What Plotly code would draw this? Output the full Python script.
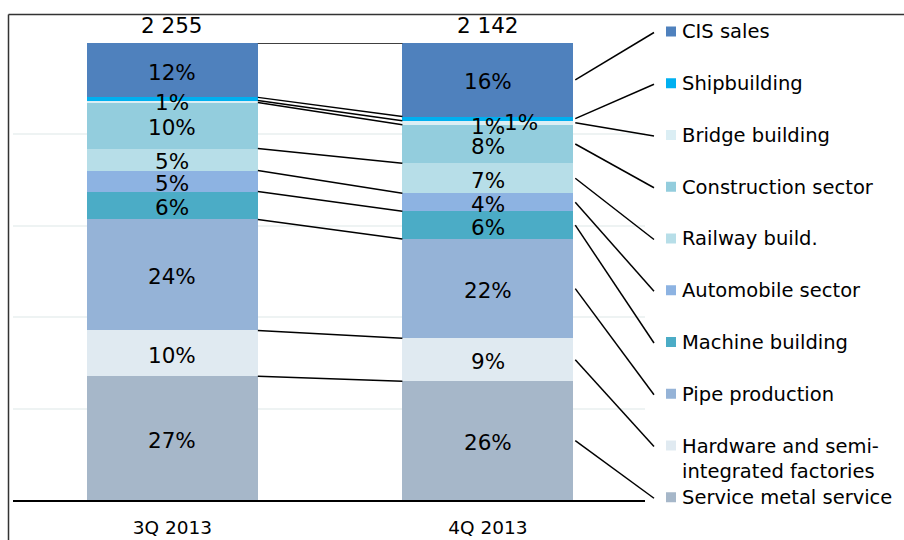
import plotly.graph_objects as go

# ---------------- data ----------------
categories = ["3Q 2013", "4Q 2013"]
totals = ["2 255", "2 142"]
# stacking order: bottom -> top
segments = ["Service metal service", "Hardware and semi-integrated factories",
            "Pipe production", "Machine building", "Automobile sector",
            "Railway build.", "Construction sector", "Bridge building",
            "Shipbuilding", "CIS sales"]
legend_text = ["Service metal service", "Hardware and semi-<br>integrated factories",
               "Pipe production", "Machine building", "Automobile sector",
               "Railway build.", "Construction sector", "Bridge building",
               "Shipbuilding", "CIS sales"]
q3_share = [27.1, 10.0, 24.3, 6.1, 4.6, 4.8, 10.1, 0.4, 0.7, 11.9]
q4_share = [26.0, 9.4, 21.7, 6.1, 3.9, 6.6, 8.4, 0.9, 0.9, 16.1]
colors = ["#a6b7c9", "#e0eaf1", "#95b3d7", "#4bacc6", "#8db3e2",
          "#b7dee8", "#93cddd", "#dbeef4", "#00b0f0", "#4f81bd"]

# ---------------- layout geometry ----------------
W, H = 904, 540
ML, MR, MT, MB = 13, 259, 43, 40
PW, PH = W - ML - MR, H - MT - MB
XMIN, XMAX = -0.505, 1.498
BAR_W = 0.542
FONT = "Verdana, DejaVu Sans, sans-serif"
FS_LEG = 19.5
FS_LAB = 21.5
FS_CAT = 18.5


def data2paper_x(x):
    return (x - XMIN) / (XMAX - XMIN)


def py2paper(py):
    return (H - MB - py) / PH


def px2paper(px):
    return (px - ML) / PW


shares = [q3_share, q4_share]

fig = go.Figure()
for i, name in enumerate(segments):
    fig.add_trace(go.Bar(
        x=[0, 1], y=[q3_share[i], q4_share[i]], name=name,
        width=BAR_W, marker=dict(color=colors[i], line=dict(width=0)),
        hoverinfo="name+y", showlegend=False))

annotations = []
shapes = []

# segment labels
for b, vals in enumerate(shares):
    cum = 0
    prev_thin = False
    for i, v in enumerate(vals):
        mid = cum + v / 2
        cum += v
        r = round(v)
        if r < 1:
            prev_thin = False
            continue
        thin = v < 1.5
        annotations.append(dict(
            x=b, y=mid, xref="x", yref="y", text=f"{r}%", showarrow=False,
            font=dict(family=FONT, size=FS_LAB, color="#000"),
            yshift=-4 if thin else -2,
            xshift=33 if (thin and prev_thin) else 0))
        prev_thin = thin

# totals above bars
for b, t in enumerate(totals):
    annotations.append(dict(
        x=b, y=100, xref="x", yref="y", text=t, showarrow=False,
        font=dict(family=FONT, size=FS_LAB, color="#000"), yshift=18))

# connector lines between the two bars
cum3 = cum4 = 0
for i in range(len(segments)):
    cum3 += q3_share[i]
    cum4 += q4_share[i]
    shapes.append(dict(type="line", xref="x", yref="y",
                       x0=0 + BAR_W / 2, x1=1 - BAR_W / 2, y0=cum3, y1=cum4,
                       line=dict(color="#000", width=1.5)))

# legend (top -> bottom), markers + text + leader lines from 4Q bar
ROW0, ROW_STEP = 31.5, 51.75
n = len(segments)
cum = 0
mids4 = []
for v in q4_share:
    mids4.append(cum + v / 2)
    cum += v
for k in range(n):
    i = n - 1 - k
    row_y = ROW0 + ROW_STEP * k
    shapes.append(dict(type="rect", xref="paper", yref="paper",
                       x0=px2paper(666), x1=px2paper(676),
                       y0=py2paper(row_y - 5), y1=py2paper(row_y + 5),
                       fillcolor=colors[i], line=dict(width=0)))
    annotations.append(dict(
        x=px2paper(680), y=py2paper(row_y - 13), xref="paper", yref="paper",
        xanchor="left", yanchor="top", align="left", text=legend_text[i],
        showarrow=False, font=dict(family=FONT, size=FS_LEG, color="#000")))
    shapes.append(dict(type="line", xref="paper", yref="paper",
                       x0=data2paper_x(1 + BAR_W / 2) + 0.003, y0=mids4[i] / 100,
                       x1=px2paper(654), y1=py2paper(row_y + 1),
                       line=dict(color="#000", width=1.5)))

# outer frame (left + top)
shapes.append(dict(type="line", xref="paper", yref="paper",
                   x0=px2paper(8.5), x1=px2paper(8.5),
                   y0=py2paper(14.5), y1=py2paper(545),
                   line=dict(color="#333", width=1.5)))
shapes.append(dict(type="line", xref="paper", yref="paper",
                   x0=px2paper(8.5), x1=px2paper(910),
                   y0=py2paper(14.5), y1=py2paper(14.5),
                   line=dict(color="#333", width=1.5)))

fig.update_layout(
    width=W, height=H, barmode="stack",
    margin=dict(l=ML, r=MR, t=MT, b=MB, autoexpand=False),
    paper_bgcolor="white", plot_bgcolor="white",
    annotations=annotations, shapes=shapes,
    xaxis=dict(range=[XMIN, XMAX], tickvals=[0, 1], ticktext=categories,
               showline=True, linecolor="#000", linewidth=2, ticks="",
               showgrid=False, zeroline=False, ticklabelstandoff=10,
               automargin=False,
               tickfont=dict(family=FONT, size=FS_CAT, color="#000")),
    yaxis=dict(range=[0, 100], dtick=20, showgrid=True, gridcolor="#eef3f3",
               gridwidth=1.5, showticklabels=False, zeroline=False,
               showline=False, ticks="", automargin=False),
)

fig.write_html("out.html", config={"displayModeBar": False},
               post_script="document.body.style.margin='0';"
                           "document.body.style.overflow='hidden';")
